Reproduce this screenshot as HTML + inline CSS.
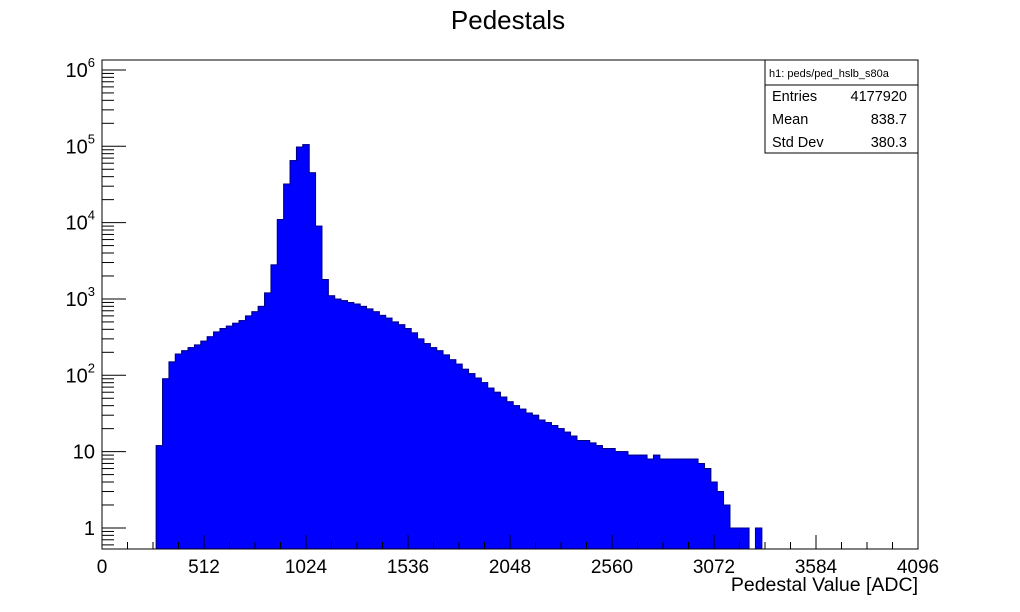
<!DOCTYPE html>
<html><head><meta charset="utf-8">
<style>
html,body{margin:0;padding:0;background:#fff;}
svg{display:block;font-family:"Liberation Sans",sans-serif;}
</style></head>
<body>
<svg id="chart" width="1020" height="612" viewBox="0 0 1020 612">
<text x="508" y="29" font-size="26" text-anchor="middle">Pedestals</text>
<g id="bars"></g>
<rect x="102" y="60" width="816" height="489" fill="none" stroke="#000" stroke-width="1"/>
<g id="xaxis"></g>
<g id="yaxis"></g>
<text x="918" y="591" font-size="19.5" text-anchor="end">Pedestal Value [ADC]</text>
<g>
<rect x="765" y="60" width="153" height="93" fill="#fff" stroke="#000"/>
<line x1="765" y1="85" x2="918" y2="85" stroke="#000"/>
<text x="769" y="77" font-size="11">h1: peds/ped_hslb_s80a</text>
<text x="772" y="101" font-size="14.5">Entries</text>
<text x="907" y="101" font-size="14.5" text-anchor="end">4177920</text>
<text x="772" y="124" font-size="14.5">Mean</text>
<text x="907" y="124" font-size="14.5" text-anchor="end">838.7</text>
<text x="772" y="147" font-size="14.5">Std Dev</text>
<text x="907" y="147" font-size="14.5" text-anchor="end">380.3</text>
</g>
</svg>
<script>
const binStart = 272;
const binWidth = 32;
const counts = [12,90,150,190,210,230,250,280,320,370,410,440,480,520,600,680,800,1200,2800,11000,32000,65000,98000,105000,45000,9000,1800,1100,1000,950,900,860,800,740,680,610,560,500,460,410,360,300,260,230,210,185,160,140,120,105,92,80,68,60,52,45,40,36,32,30,26,24,22,20,18,16,14,14,13,12,11,11,10,10,9,9,9,8,9,8,8,8,8,8,8,7,6,4,3,2,1,1,1,0,1];
const xTicks = [0,512,1024,1536,2048,2560,3072,3584,4096];
const yDecades = [0,1,2,3,4,5,6];

const NS = "http://www.w3.org/2000/svg";
const X0 = 102, X1 = 918, Y0 = 549, Y1 = 60;
const xMin = 0, xMax = 4096, yMinLog = Math.log10(0.53), yMaxLog = Math.log10(1.35e6);
function sx(v){ return X0 + (v - xMin) / (xMax - xMin) * (X1 - X0); }
function sy(v){ return Y0 - (Math.log10(v) - yMinLog) / (yMaxLog - yMinLog) * (Y0 - Y1); }
function mk(tag, attrs, parent){ const e = document.createElementNS(NS, tag); for (const k in attrs) e.setAttribute(k, attrs[k]); parent.appendChild(e); return e; }

const bars = document.getElementById('bars');
let path = "";
counts.forEach((c, i) => {
  const xa = sx(binStart + i * binWidth), xb = sx(binStart + (i + 1) * binWidth);
  const yt = c > 0 ? Math.max(Y1, sy(c)) : Y0;
  if (c > 0) {
    const r = mk('rect', {x: xa, y: yt, width: xb - xa, height: Y0 - yt, fill: '#0000ff', stroke: '#0000ff', 'stroke-width': 0.8}, bars);
    
    
  }
  path += (i === 0 ? `M${xa},${Y0}` : "") + `L${xa},${yt}L${xb},${yt}`;
});
path += `L${sx(binStart + counts.length * binWidth)},${Y0}`;
const outline = mk('path', {d: path, fill: 'none', stroke: '#000080', 'stroke-width': 1}, bars);



const xa = document.getElementById('xaxis');
for (let v = 0; v <= 4096; v += 128) {
  const major = v % 512 === 0;
  mk('line', {x1: sx(v), x2: sx(v), y1: Y0, y2: Y0 - (major ? 14 : 7), stroke: '#000'}, xa);
}
xTicks.forEach(v => {
  const t = mk('text', {x: sx(v), y: 573, 'font-size': 19, 'text-anchor': 'middle'}, xa);
  t.textContent = v;
  
  
});

const ya = document.getElementById('yaxis');
for (let d = -1; d <= 6; d++) {
  for (let m = 1; m <= 9; m++) {
    const v = m * Math.pow(10, d);
    if (v < 0.53 || v > 1.35e6) continue;
    const y = sy(v);
    mk('line', {x1: X0, x2: X0 + (m === 1 ? 24 : 12), y1: y, y2: y, stroke: '#000'}, ya);
  }
}
yDecades.forEach(d => {
  const y = sy(Math.pow(10, d));
  const t = mk('text', {x: 95, y: y + 7, 'font-size': 20, 'text-anchor': 'end'}, ya);
  if (d === 0) t.textContent = '1';
  else if (d === 1) t.textContent = '10';
  else {
    const a = mk('tspan', {}, t); a.textContent = '10';
    const b = mk('tspan', {dy: -10, 'font-size': 13}, t); b.textContent = d;
  }
  
  
});
</script>
</body></html>
